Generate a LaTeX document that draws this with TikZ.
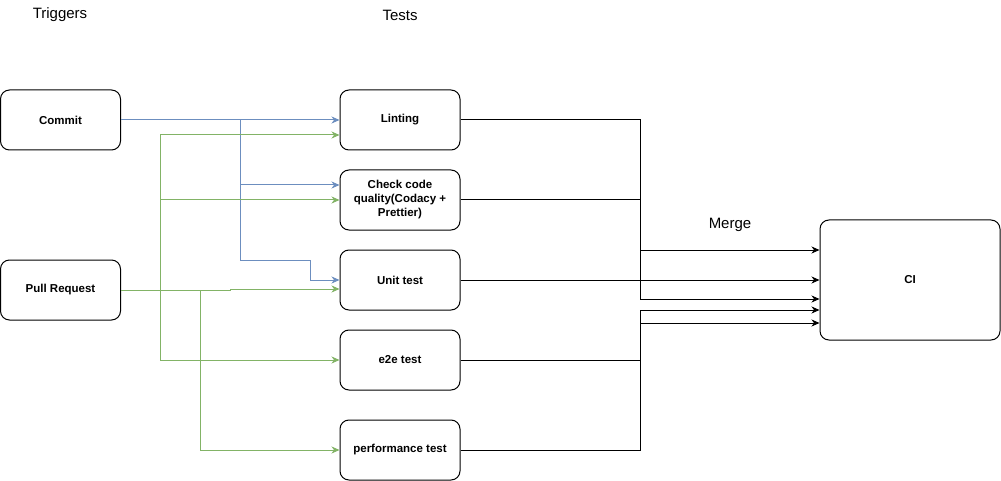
\documentclass[tikz,border=0pt]{standalone}
\usepackage{fontspec}
\setmainfont{Liberation Sans}
\usepackage{xcolor}
\usetikzlibrary{arrows.meta}
\definecolor{blueedge}{HTML}{6C8EBF}
\definecolor{greenedge}{HTML}{82B366}

\begin{document}
\begin{tikzpicture}[x=1pt, y=-1pt,
    box/.style={draw, rounded corners=9pt, line width=1pt, minimum width=120pt, minimum height=60pt, inner sep=0pt, align=center, font=\fontsize{11.5}{14}\selectfont\bfseries},
    heading/.style={font=\fontsize{15}{18}\selectfont},
    edge/.style={line width=1pt, -{Stealth[length=8pt, width=7pt, inset=2.5pt]}},
    blueline/.style={edge, blueedge},
    greenline/.style={edge, greenedge}]
    \useasboundingbox (0,0) rectangle (1001,481);

    \node[heading] (triggers) at (60,15) {Triggers};
    \node[heading] (tests) at (400,15) {Tests};
    \node[heading] (merge) at (730,225) {Merge};

    \node[box] (commit) at (60.5,120) {Commit};
    \node[box] (pr) at (60.5,290) {Pull Request};
    \node[box] (lint) at (400,120) {Linting};
    \node[box] (check) at (400,200) {Check code\\quality(Codacy +\\Prettier)};
    \node[box] (unit) at (400,280) {Unit test};
    \node[box] (e2e) at (400,360) {e2e test};
    \node[box] (perf) at (400,450) {performance test};
    \node[box, minimum width=180pt, minimum height=120pt] (ci) at (910,280) {CI};

    \draw[blueline] (commit.east) -- (lint.west);
    \draw[blueline] (commit.east) -| (240,185) -- ([yshift=15pt]check.west);
    \draw[blueline] (commit.east) -| (240,260) -| (310,280) -- (unit.west);

    \draw[greenline] (pr.east) -| (160,135) -- ([yshift=-15pt]lint.west);
    \draw[greenline] (pr.east) -| (160,200) -- (check.west);
    \draw[greenline] (pr.east) -- (230,290) |- ([yshift=-9pt]unit.west);
    \draw[greenline] (pr.east) -| (160,360) -- (e2e.west);
    \draw[greenline] (pr.east) -| (200,450) -- (perf.west);

    \draw[edge] (lint.east) -| (640,299) -- ([yshift=-19pt]ci.west);
    \draw[edge] (check.east) -| (640,250) -- ([yshift=30pt]ci.west);
    \draw[edge] (unit.east) -- (ci.west);
    \draw[edge] (e2e.east) -| (640,310) -- ([yshift=-30pt]ci.west);
    \draw[edge] (perf.east) -| (640,323) -- ([yshift=-43pt]ci.west);
\end{tikzpicture}
\end{document}
